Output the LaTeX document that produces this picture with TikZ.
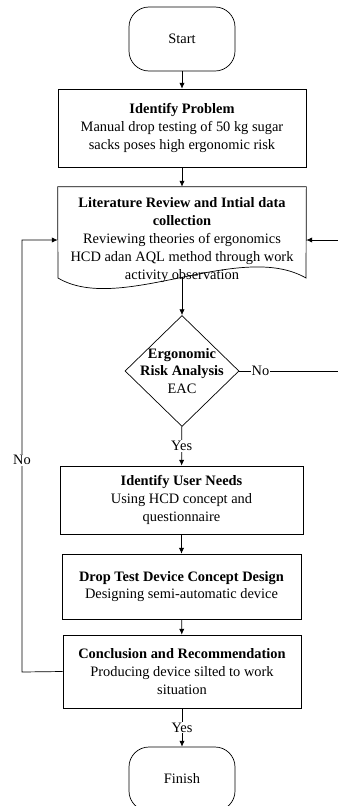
\documentclass[tikz,border=0pt]{standalone}
\usepackage{fontspec}
\setmainfont{Liberation Serif}
\usepackage{tikz}
\usetikzlibrary{shapes,arrows,arrows.meta}
\usetikzlibrary{shapes.geometric}
\tikzstyle{block} = [draw, rectangle, align=center]
\tikzstyle{terminal} = [draw, rectangle, rounded corners=0.6cm,
    minimum width=3.18cm, minimum height=1.92cm]
\tikzstyle{decision} = [draw, diamond, inner sep=0pt,
    minimum width=3.42cm, minimum height=3.33cm]
\tikzstyle{doc} = [rectangle, align=center, minimum width=7.44cm, minimum height=3.18cm]
\tikzstyle{tag} = [fill=white, inner sep=1pt]

\begin{document}
\begin{tikzpicture}[x=0.03cm, y=-0.03cm, >={Latex[length=5pt,width=4.5pt]}, line width=0.6pt,
    font=\fontsize{12.3}{15.2}\selectfont]
    \useasboundingbox (0,0) rectangle (338,806);
    \node [terminal] at (182,39) (start) {Start};
    \node [block, minimum width=7.44cm, minimum height=2.34cm] at (182,128) (problem)
      {\textbf{Identify Problem}\\Manual drop testing of 50 kg sugar\\sacks poses high ergonomic risk};
    \node [doc] at (182,240) (lit)
      {\textbf{Literature Review and Intial data}\\\textbf{collection}\\Reviewing theories of ergonomics\\HCD adan AQL method through work\\activity observation};
    \draw (lit.north west) -- (lit.north east) -- (306,278)
      .. controls (240,240) and (120,315) .. (58,278) -- cycle;
    \node [decision] at (182,371) (risk) {};
    \node [align=center] at (risk) (risktext) {\textbf{Ergonomic}\\\textbf{Risk Analysis}\\EAC};
    \node [block, minimum width=7.29cm, minimum height=2.04cm] at (181.5,500) (needs)
      {\textbf{Identify User Needs}\\Using HCD concept and\\questionnaire};
    \node [block, minimum width=7.17cm, minimum height=1.95cm] at (181.5,586.5) (design)
      {\textbf{Drop Test Device Concept Design}\\Designing semi-automatic device};
    \node [block, minimum width=7.14cm, minimum height=2.19cm] at (182,671.5) (concl)
      {\textbf{Conclusion and Recommendation}\\Producing device silted to work\\situation};
    \node [terminal] at (182,779) (finish) {Finish};
    \coordinate (litout) at (182,277);
    \coordinate (rbend) at (345,371);
    \coordinate (lbend) at (22,672);
    \draw [->] (start) -- (problem);
    \draw [->] (problem) -- (lit);
    \draw [->] (litout) -- (risk);
    \draw [->] (risk) -- node[tag] {Yes} (needs);
    \draw [->] (needs) -- (design);
    \draw [->] (design) -- (concl);
    \draw [->] (concl) -- node[tag] {Yes} (finish);
    \draw [->] (risk.east) -- node[tag, pos=0.2] {No} (rbend) |- (lit.east);
    \draw [->] (concl.west) -- (lbend) |- node[tag, pos=0.245] {No} (lit.west);
\end{tikzpicture}
\end{document}
